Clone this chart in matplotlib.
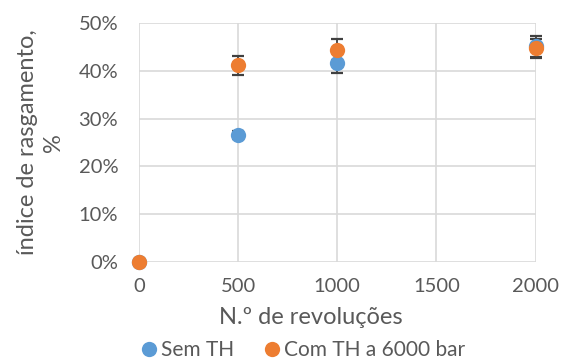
import matplotlib
matplotlib.use("Agg")
import matplotlib.pyplot as plt
from matplotlib.lines import Line2D
from matplotlib.ticker import FuncFormatter

# Revolutions and tearing index (%) with standard deviations
revolucoes = [0, 500, 1000, 2000]
sem_th = [0.0, 26.5, 41.6, 45.2]
sem_th_err = [0.0, 0.8, 2.1, 2.2]
com_th = [0.0, 41.2, 44.4, 44.7]
com_th_err = [0.0, 2.0, 2.2, 2.0]

series = [(sem_th, sem_th_err, '#5B9BD5', 'Sem TH'),
          (com_th, com_th_err, '#ED7D31', 'Com TH a 6000 bar')]

plt.rcParams['font.family'] = ['Lato', 'DejaVu Sans']
txt = '#595959'
bar_col = '#404040'

fig = plt.figure(figsize=(5.62, 3.61), dpi=100)
ax = fig.add_axes([0.2473, 0.275, 0.7057, 0.661])

for y, e, c, lab in series:
    # error bars first, markers on top of them
    ax.errorbar(revolucoes, y, yerr=e, fmt='none', ecolor=bar_col,
                elinewidth=1.3, capsize=4.3, capthick=1.6, zorder=3,
                clip_on=False)
    ax.plot(revolucoes, y, linestyle='none', marker='o', markersize=11,
            markeredgewidth=0, color=c, zorder=4, clip_on=False)

ax.set_xlim(0, 2000)
ax.set_ylim(0, 50)
ax.set_xticks([0, 500, 1000, 1500, 2000])
ax.set_yticks([0, 10, 20, 30, 40, 50])
ax.yaxis.set_major_formatter(FuncFormatter(lambda v, p: f'{v:.0f}%'))
ax.grid(True, color='#D9D9D9', linewidth=1.2)
ax.set_axisbelow(True)
for s in ax.spines.values():
    s.set_visible(False)
ax.tick_params(length=0, labelsize=14.5, colors=txt)
ax.tick_params(axis='y', pad=15)
ax.tick_params(axis='x', pad=12)

ax.set_xlabel('N.º de revoluções', fontsize=17, color=txt, va='center')
ax.xaxis.set_label_coords(0.434, -0.235)
ax.set_ylabel('índice de rasgamento,\n%', fontsize=17, color=txt,
              va='center', linespacing=1.27)
ax.yaxis.set_label_coords(-0.249, 0.5)

handles = [Line2D([], [], linestyle='none', marker='o', markersize=11,
                  markeredgewidth=0, color=c) for _, _, c, _ in series]
labels = [lab for _, _, _, lab in series]
leg = fig.legend(handles, labels, loc='center', bbox_to_anchor=(0.539, 0.0305),
                 ncol=2, frameon=False, fontsize=15, handletextpad=0.2,
                 columnspacing=1.4, handlelength=0.8, borderpad=0,
                 borderaxespad=0)
for t in leg.get_texts():
    t.set_color(txt)

fig.savefig('out.png', dpi=100)
